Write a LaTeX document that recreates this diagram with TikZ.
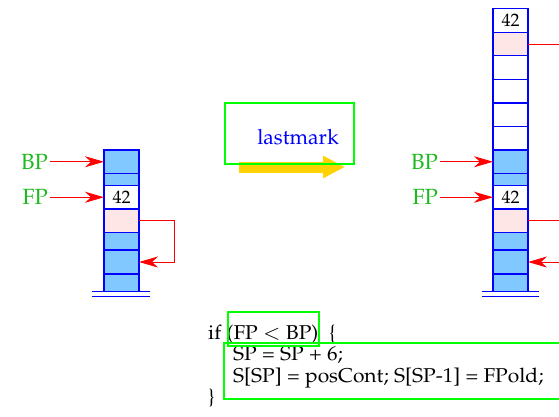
\documentclass[tikz,border=0pt]{standalone}
\usepackage[T1]{fontenc}
\usepackage{mathpazo}
\usetikzlibrary{arrows.meta,positioning}

\definecolor{cellblue}{RGB}{128,200,255}
\definecolor{cellpink}{RGB}{255,230,230}
\definecolor{lblgreen}{RGB}{30,185,30}
\definecolor{boxgreen}{RGB}{0,255,0}
\definecolor{mvyellow}{RGB}{255,210,0}

% Code etwas breiter gezogen
\newcommand{\wtext}[1]{\scalebox{1.05}[1]{#1}}

\tikzset{
  cell/.style={draw=blue, line width=1.2pt, minimum width=35pt, inner sep=0pt,
    outer sep=0pt, font=\fontsize{18}{20}\selectfont},
  lbl/.style={text=lblgreen, font=\fontsize{22}{24}\selectfont, inner sep=2pt},
  ptr/.style={draw=red, line width=0.8pt, -{Stealth[length=19pt,width=11pt,inset=6pt]}},
  ptrline/.style={draw=red, line width=0.8pt},
  ground/.style={draw=blue, line width=0.9pt},
  hilite/.style={draw=boxgreen, line width=2pt, inner sep=0pt},
  code/.style={anchor=base west, inner sep=0pt, font=\fontsize{20}{22}\selectfont}
}

\begin{document}
\begin{tikzpicture}[x=1pt,y=-1pt]
    \useasboundingbox (0,0) rectangle (559,416);
    \clip (0,0) rectangle (559,416);
    \coordinate (redge) at (570,0);

    % Stack links
    \node[cell, fill=cellblue, minimum height=23.5pt] (lb1) at (121.5,161.75) {};
    \node[cell, fill=cellblue, minimum height=12pt] (lb2) at (121.5,179.5) {};
    \node[cell, fill=white, minimum height=23.5pt] (lfp) at (121.5,197.25) {42};
    \node[cell, fill=cellpink, minimum height=23.5pt] (lpk) at (121.5,220.75) {};
    \node[cell, fill=cellblue, minimum height=17.5pt] (lb3) at (121.5,241.25) {};
    \node[cell, fill=cellblue, minimum height=24pt] (lb4) at (121.5,262) {};
    \node[cell, fill=cellblue, minimum height=17.5pt] (lb5) at (121.5,282.75) {};
    \draw[ground] ([xshift=-12pt]lb5.south west) -- ([xshift=11pt]lb5.south east);
    \draw[ground] ([xshift=-12pt,yshift=-5pt]lb5.south west) -- ([xshift=11pt,yshift=-5pt]lb5.south east);

    \node[lbl, anchor=east, left=54pt of lb1] (lbp) {BP};
    \node[lbl, anchor=east, left=54pt of lfp] (lfpl) {FP};
    \draw[ptr] (lbp.east) -- (lb1.west);
    \draw[ptr] (lfpl.east) -- (lfp.west);
    \draw[ptr] (lpk.east) -- ++(35,0) |- (lb4.east);

    % lastmark
    \coordinate (mvs) at (239,167);
    \coordinate (mve) at (345,167);
    \draw[mvyellow, line width=11pt, -{Triangle[length=22pt,width=21pt]}] (mvs) -- (mve);
    \node[hilite, minimum width=129pt, minimum height=61pt] (lmbox) at (289.5,133.3) {};
    \node[text=blue, font=\fontsize{21}{24}\selectfont] (lmtext) at (298,137) {lastmark};

    % Stack rechts
    \node[cell, fill=white, minimum height=23.6pt] (r42) at (510.5,20.3) {42};
    \node[cell, fill=cellpink, minimum height=23.6pt] (rpk0) at (510.5,43.9) {};
    \node[cell, fill=white, minimum height=23.6pt] (rw1) at (510.5,67.5) {};
    \node[cell, fill=white, minimum height=23.6pt] (rw2) at (510.5,91.1) {};
    \node[cell, fill=white, minimum height=23.6pt] (rw3) at (510.5,114.7) {};
    \node[cell, fill=white, minimum height=23.6pt] (rw4) at (510.5,138.3) {};
    \node[cell, fill=cellblue, minimum height=23.5pt] (rb1) at (510.5,161.75) {};
    \node[cell, fill=cellblue, minimum height=12pt] (rb2) at (510.5,179.5) {};
    \node[cell, fill=white, minimum height=23.5pt] (rfp) at (510.5,197.25) {42};
    \node[cell, fill=cellpink, minimum height=23.5pt] (rpk) at (510.5,220.75) {};
    \node[cell, fill=cellblue, minimum height=17.5pt] (rb3) at (510.5,241.25) {};
    \node[cell, fill=cellblue, minimum height=24pt] (rb4) at (510.5,262) {};
    \node[cell, fill=cellblue, minimum height=17.5pt] (rb5) at (510.5,282.75) {};
    \draw[ground] ([xshift=-11pt]rb5.south west) -- ([xshift=11pt]rb5.south east);
    \draw[ground] ([xshift=-11pt,yshift=-5pt]rb5.south west) -- ([xshift=11pt,yshift=-5pt]rb5.south east);

    \node[lbl, anchor=east, left=53pt of rb1] (rbp) {BP};
    \node[lbl, anchor=east, left=53pt of rfp] (rfpl) {FP};
    \draw[ptr] (rbp.east) -- (rb1.west);
    \draw[ptr] (rfpl.east) -- (rfp.west);
    \draw[ptrline] (rpk0.east) -- (rpk0.east -| redge);
    \draw[ptrline] (rpk.east) -- (rpk.east -| redge);
    \draw[ptr] (rb4.east -| redge) -- (rb4.east);

    % Code
    \node[code] (c1) at (208,339) {\wtext{if (FP $<$ BP)\ \ \{}};
    \node[code] (c2) at (233,360.5) {\wtext{SP = SP + 6;}};
    \node[code] (c3) at (233,382) {\wtext{S[SP] = posCont; S[SP-1] = FPold;}};
    \node[code] (c4) at (208,403.5) {\wtext{\}}};
    \node[hilite, anchor=north west, minimum width=91pt, minimum height=34pt] (condbox) at (227,311) {};
    \node[hilite, anchor=north west, minimum width=350pt, minimum height=56.6pt] (bodybox) at (222.7,341.7) {};
\end{tikzpicture}
\end{document}
